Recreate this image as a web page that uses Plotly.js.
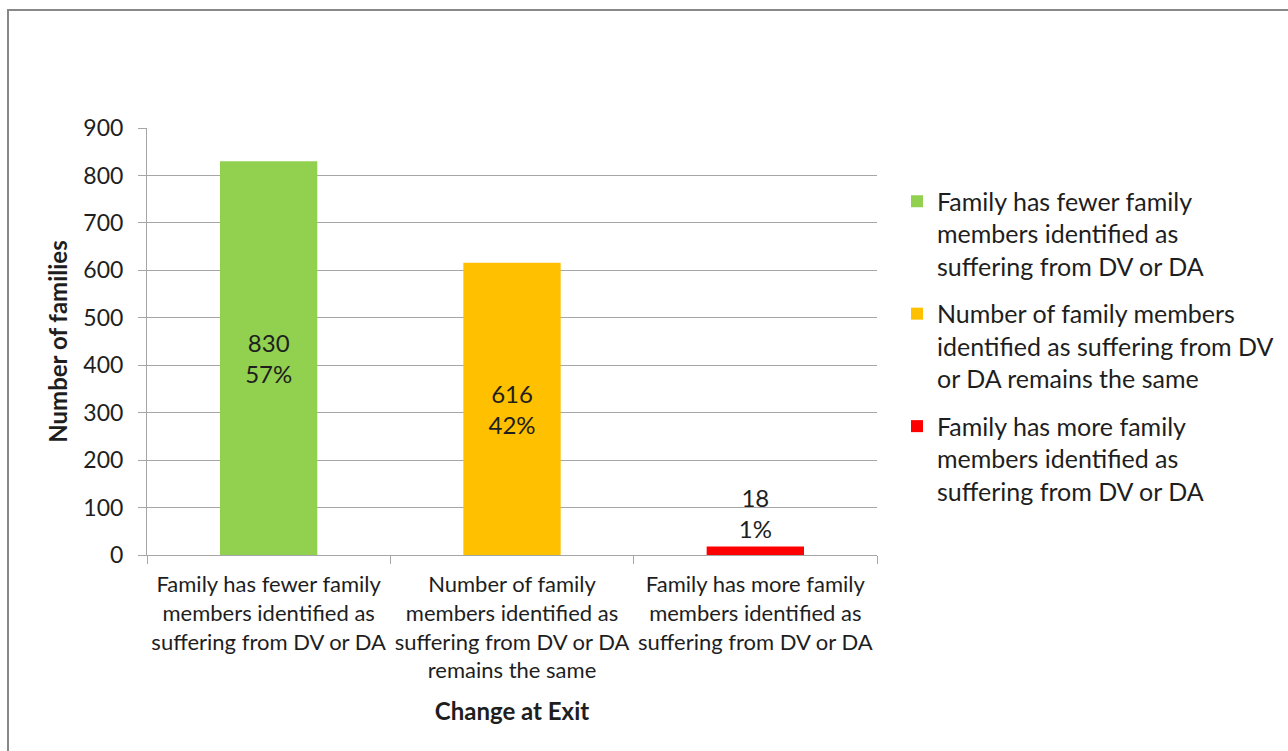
<!DOCTYPE html>
<html>
<head>
<meta charset="utf-8">
<script src="https://cdn.plot.ly/plotly-3.0.1.min.js"></script>
<style>
  html, body { margin: 0; padding: 0; background: #fff; }
  #chart { position: absolute; left: 0; top: 0; width: 1288px; height: 751px; }
  #frame { position: absolute; left: 7px; top: 9px; width: 1300px; height: 800px;
           border-left: 2px solid #888; border-top: 2px solid #888; pointer-events: none; }
</style>
</head>
<body>
<div id="chart"></div>
<div id="frame"></div>
<script>
const categories = [
  "Family has fewer family<br>members identified as<br>suffering from DV or DA",
  "Number of family<br>members identified as<br>suffering from DV or DA<br>remains the same",
  "Family has more family<br>members identified as<br>suffering from DV or DA"
];
const legendNames = [
  "Family has fewer family<br>members identified as<br>suffering from DV or DA",
  "Number of family members<br>identified as suffering from DV<br>or DA remains the same",
  "Family has more family<br>members identified as<br>suffering from DV or DA"
];
const values = [830, 616, 18];
const percents = ["57%", "42%", "1%"];
const colors = ["#92D050", "#FFC000", "#FF0000"];
const labelPositions = ["inside", "inside", "outside"];

const textColor = "#1e1e1e";
const gridColor = "#a6a6a6";
const fontFamily = "Lato, 'Open Sans', sans-serif";

const traces = categories.map((c, i) => ({
  type: "bar",
  x: [c],
  y: [values[i]],
  name: legendNames[i],
  legendgroup: "g" + i,
  width: 0.4,
  marker: { color: colors[i] },
  text: [values[i] + "<br>" + percents[i]],
  textposition: labelPositions[i],
  insidetextanchor: "middle",
  textangle: 0,
  constraintext: "none",
  textfont: { family: fontFamily, size: 24, color: textColor },
  hoverinfo: "skip"
}));

const layout = {
  width: 1288,
  height: 751,
  margin: { l: 147, r: 411, t: 128, b: 196, autoexpand: false },
  paper_bgcolor: "#ffffff",
  plot_bgcolor: "#ffffff",
  font: { family: fontFamily, color: textColor },
  barmode: "overlay",
  showlegend: true,
  legend: {
    x: 1.0274, xanchor: "left",
    y: 0.882, yanchor: "top",
    valign: "top",
    tracegroupgap: 12,
    itemwidth: 30,
    font: { family: fontFamily, size: 25, color: textColor },
    bgcolor: "rgba(0,0,0,0)"
  },
  xaxis: {
    type: "category",
    tickson: "boundaries",
    tickangle: 0,
    ticks: "outside",
    ticklen: 8,
    tickcolor: gridColor,
    showline: true,
    linecolor: gridColor,
    linewidth: 1,
    showgrid: false,
    ticklabelstandoff: 10,
    tickfont: { family: fontFamily, size: 22, color: textColor },
    title: { text: "<b>Change at Exit</b>", font: { family: fontFamily, size: 24, color: textColor }, standoff: 20 },
    fixedrange: true
  },
  yaxis: {
    range: [0, 900],
    dtick: 100,
    tick0: 0,
    ticks: "outside",
    ticklen: 8,
    tickcolor: gridColor,
    showline: true,
    linecolor: gridColor,
    linewidth: 1,
    showgrid: true,
    gridcolor: gridColor,
    gridwidth: 1,
    zeroline: false,
    ticklabelstandoff: 10,
    tickfont: { family: fontFamily, size: 23, color: textColor },
    title: { text: "<b>Number of families</b>", font: { family: fontFamily, size: 24, color: textColor }, standoff: 8 },
    fixedrange: true
  }
};

Plotly.newPlot("chart", traces, layout, { displayModeBar: false, staticPlot: true });
</script>
</body>
</html>
